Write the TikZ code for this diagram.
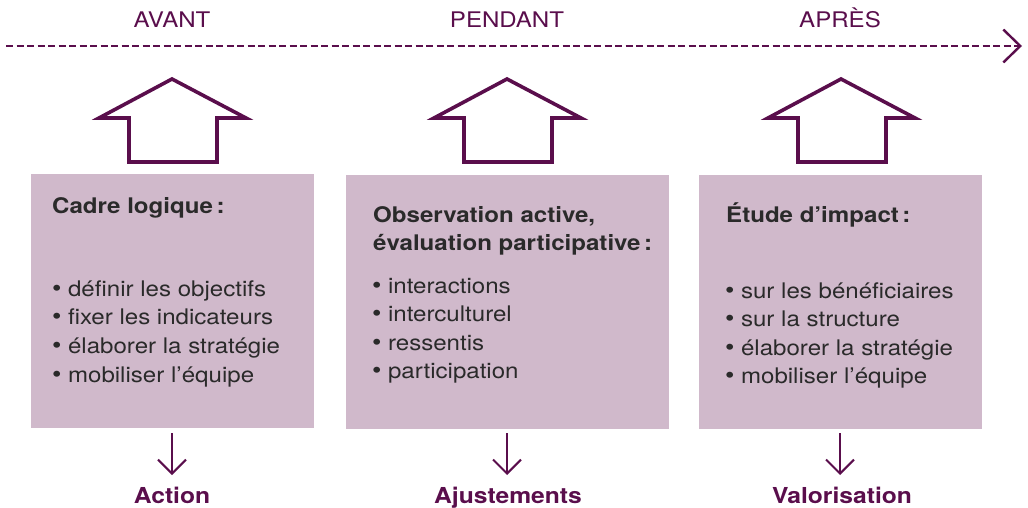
\documentclass[tikz,border=0pt]{standalone}
\usepackage{fontspec}
\setmainfont{TeX Gyre Heros}
\newfontfamily\widesans{TeX Gyre Heros}[FakeStretch=1.12]
\usetikzlibrary{arrows.meta}
\definecolor{plum}{HTML}{5A0E4C}
\definecolor{mauve}{HTML}{D0B9CB}
\definecolor{ink}{HTML}{2A2A2A}
\begin{document}
\begin{tikzpicture}[x=1pt,y=-1pt,
  phase/.style={font=\widesans\fontsize{21.5}{21.5}\selectfont, text=plum, inner sep=0pt, anchor=base},
  timeline/.style={draw=plum, line width=2.4pt, dash pattern=on 7pt off 3.5pt,
    -{Straight Barb[length=17pt,width=33pt,line width=2.4pt]}},
  house/.style={draw=plum, line width=3.6pt, fill=white, line join=miter},
  panel/.style={fill=mauve, draw=none, anchor=north west, inner sep=0pt, minimum height=254pt},
  heading/.style={font=\widesans\fontsize{21.5}{21.5}\selectfont\bfseries, text=ink, inner sep=0pt, anchor=base west},
  item/.style={font=\widesans\fontsize{21.5}{21.5}\selectfont, text=ink, inner sep=0pt, anchor=base west},
  drop/.style={draw=plum, line width=2pt, -{Straight Barb[length=14pt,width=28pt,line width=2pt]}},
  outcome/.style={font=\widesans\fontsize{22}{22}\selectfont\bfseries, text=plum, inner sep=0pt, anchor=base},
  uparrow/.pic={\draw[house] (0,0) -- (74,39) -- (45,39) -- (45,83) -- (-43,83) -- (-43,39) -- (-73,39) -- cycle;}
]
\useasboundingbox (0,0) rectangle (1028,508);

% phases along the time line
\node[phase] (avant) at (172,28) {AVANT};
\node[phase] (pendant) at (507,28) {PENDANT};
\node[phase] (apres) at (840,28) {APRÈS};

\coordinate (tl0) at (6,46);
\coordinate (tl1) at (1022,46);
\draw[timeline] (tl0) -- (tl1);

% hollow arrows pointing up to the time line
\pic at (172,79) {uparrow};
\pic at (507,79) {uparrow};
\pic at (841,79) {uparrow};

% panels
\node[panel, minimum width=283pt] (box1) at (31,174) {};
\node[panel, minimum width=323pt] (box2) at (346,175) {};
\node[panel, minimum width=283pt] (box3) at (699,175) {};

\newcommand{\bul}{{\fontsize{24}{24}\selectfont\textbullet}\hspace{0.3em}}

% panel 1
\node[heading] (h1) at (52,213) {Cadre logique\,:};
\foreach \t [count=\i] in {définir les objectifs, fixer les indicateurs, élaborer la stratégie, mobiliser l’équipe}
  \node[item] (a\i) at (52,{296+28.7*(\i-1)}) {\bul\t};

% panel 2
\node[heading] (h2a) at (373,222) {Observation active,};
\node[heading] (h2b) at (373,250) {évaluation participative\,:};
\foreach \t [count=\i] in {interactions, interculturel, ressentis, participation}
  \node[item] (b\i) at (372,{293+28.5*(\i-1)}) {\bul\t};

% panel 3
\node[heading] (h3) at (726,222) {Étude d’impact\,:};
\foreach \t [count=\i] in {sur les bénéficiaires, sur la structure, élaborer la stratégie, mobiliser l’équipe}
  \node[item] (c\i) at (725,{298+28.5*(\i-1)}) {\bul\t};

% outcomes
\node[outcome] (o1) at (172,503) {Action};
\node[outcome] (o2) at (508,503) {Ajustements};
\node[outcome] (o3) at (842,503) {Valorisation};

\draw[drop] (172,433) -- (172,475);
\draw[drop] (507,433) -- (507,475);
\draw[drop] (840,433) -- (840,475);
\end{tikzpicture}
\end{document}
